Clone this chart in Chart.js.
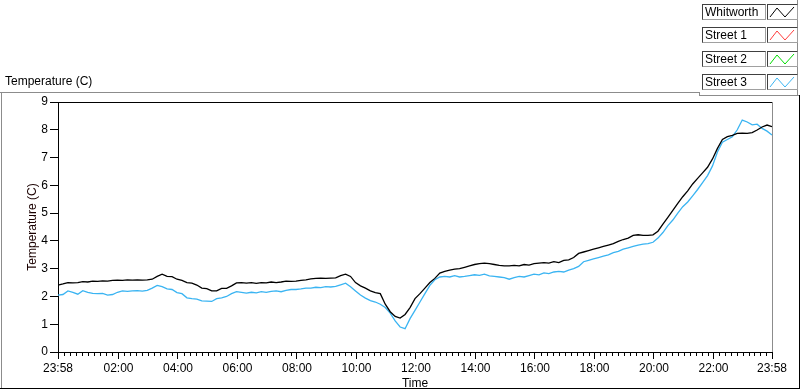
<!DOCTYPE html>
<html>
<head>
<meta charset="utf-8">
<script src="https://cdn.jsdelivr.net/npm/chart.js@4.4.0/dist/chart.umd.min.js"></script>
<style>
  body { margin: 0; background: #fff; font-family: "Liberation Sans", Arial, sans-serif; }
  #wrap { position: relative; width: 800px; height: 392px; overflow: hidden; background: #fff; }
  #myChart { position: absolute; left: 0; top: 0; }
  .ln { position: absolute; }
  .ttl { position: absolute; left: 5px; top: 74px; font-size: 12px; line-height: 14px; color: #000; }
  .lbl { position: absolute; left: 702px; width: 60px; height: 14px; font-size: 12px; line-height: 14px;
         border-top: 1px solid #404040; border-left: 1px solid #404040;
         border-bottom: 1px solid #a0a0a0; border-right: 1px solid #a0a0a0; padding-left: 2px; box-sizing: content-box; color: #000; }
  .ico { position: absolute; left: 767px; width: 29px; height: 14px;
         border-top: 1px solid #404040; border-left: 1px solid #404040;
         border-bottom: 1px solid #a0a0a0; border-right: 1px solid #a0a0a0; }
</style>
</head>
<body>
<div id="wrap">
  <canvas id="myChart" width="800" height="392"></canvas>
  <div class="ttl">Temperature (C)</div>
  <!-- panel frame -->
  <div class="ln" style="left:0;top:92px;width:700px;height:1px;background:#8c8c8c"></div>
  <div class="ln" style="left:1px;top:92px;width:1px;height:296px;background:#8c8c8c"></div>
  <div class="ln" style="left:0;top:388px;width:800px;height:1px;background:#000"></div>
  <div class="ln" style="left:799px;top:95px;width:1px;height:294px;background:#000"></div>
  <div class="ln" style="left:699px;top:92px;width:1px;height:4px;background:#8c8c8c"></div>
  <div class="ln" style="left:699px;top:95px;width:100px;height:1px;background:#8c8c8c"></div>
  <div class="ln" style="left:797px;top:0;width:1px;height:95px;background:#8c8c8c"></div>
  <div id="legend"></div>
</div>
<script>
// series names + colours
const seriesNames = ['Whitworth', 'Street 1', 'Street 2', 'Street 3'];
const seriesColors = ['#000000', '#ff3c3c', '#00dc00', '#3ab4f2'];

// x axis ticks (minutes after 23:58)
const xTickValues = [0, 122, 242, 362, 482, 602, 722, 842, 962, 1082, 1202, 1322, 1440];
const xTickLabels = ['23:58', '02:00', '04:00', '06:00', '08:00', '10:00', '12:00',
                     '14:00', '16:00', '18:00', '20:00', '22:00', '23:58'];

// sample times, every 10 minutes from 23:58
const sampleMinutes = Array.from({length: 145}, (_, i) => i * 10);

const whitworth = [
  2.41, 2.45, 2.50, 2.49, 2.50, 2.53, 2.52, 2.55, 2.54, 2.56, 2.55, 2.58, 2.59, 2.58, 2.60, 2.59,
  2.60, 2.59, 2.60, 2.62, 2.72, 2.80, 2.72, 2.71, 2.62, 2.58, 2.50, 2.48, 2.41, 2.30, 2.28, 2.20,
  2.20, 2.29, 2.29, 2.38, 2.49, 2.50, 2.48, 2.50, 2.47, 2.50, 2.49, 2.52, 2.50, 2.52, 2.55, 2.54,
  2.55, 2.58, 2.60, 2.63, 2.65, 2.66, 2.65, 2.66, 2.67, 2.75, 2.80, 2.72, 2.50, 2.38, 2.30, 2.20,
  2.14, 2.10, 1.72, 1.45, 1.28, 1.22, 1.35, 1.60, 1.92, 2.10, 2.30, 2.50, 2.65, 2.84, 2.90, 2.95,
  2.98, 3.00, 3.05, 3.10, 3.15, 3.18, 3.20, 3.18, 3.15, 3.12, 3.10, 3.10, 3.12, 3.10, 3.15, 3.13,
  3.18, 3.20, 3.22, 3.20, 3.25, 3.22, 3.30, 3.32, 3.40, 3.55, 3.60, 3.65, 3.70, 3.75, 3.80, 3.85,
  3.90, 3.98, 4.05, 4.10, 4.20, 4.22, 4.20, 4.20, 4.22, 4.35, 4.60, 4.85, 5.10, 5.35, 5.59, 5.80,
  6.05, 6.25, 6.45, 6.65, 6.95, 7.33, 7.65, 7.75, 7.80, 7.87, 7.88, 7.87, 7.90, 7.99, 8.10, 8.17,
  8.11
];
const street1 = [];
const street2 = [];
const street3 = [
  2.05, 2.07, 2.20, 2.15, 2.08, 2.21, 2.15, 2.11, 2.10, 2.11, 2.05, 2.07, 2.15, 2.20, 2.18, 2.20,
  2.21, 2.19, 2.22, 2.30, 2.40, 2.35, 2.27, 2.25, 2.14, 2.10, 1.95, 1.92, 1.90, 1.84, 1.83, 1.82,
  1.92, 1.95, 2.00, 2.10, 2.17, 2.15, 2.12, 2.15, 2.13, 2.17, 2.15, 2.18, 2.20, 2.17, 2.22, 2.25,
  2.25, 2.27, 2.30, 2.30, 2.33, 2.32, 2.35, 2.34, 2.36, 2.42, 2.48, 2.35, 2.20, 2.05, 1.94, 1.85,
  1.80, 1.72, 1.60, 1.40, 1.12, 0.90, 0.84, 1.20, 1.50, 1.80, 2.10, 2.40, 2.60, 2.70, 2.72, 2.70,
  2.75, 2.70, 2.72, 2.75, 2.78, 2.76, 2.80, 2.74, 2.72, 2.70, 2.68, 2.62, 2.68, 2.72, 2.70, 2.75,
  2.80, 2.78, 2.85, 2.82, 2.88, 2.90, 2.88, 2.95, 3.00, 3.08, 3.25, 3.30, 3.35, 3.40, 3.45, 3.50,
  3.58, 3.62, 3.70, 3.75, 3.80, 3.85, 3.88, 3.90, 3.95, 4.10, 4.30, 4.55, 4.75, 5.00, 5.23, 5.40,
  5.62, 5.85, 6.10, 6.35, 6.70, 7.20, 7.55, 7.65, 7.75, 8.00, 8.35, 8.28, 8.18, 8.20, 8.05, 7.95,
  7.81
];

const seriesValues = [whitworth, street1, street2, street3];

// legend, drawn as html boxes like the original
const legendEl = document.getElementById('legend');
seriesNames.forEach((name, i) => {
  const top = 4 + Math.round(i * 23.3);
  const lbl = document.createElement('div');
  lbl.className = 'lbl';
  lbl.style.top = top + 'px';
  lbl.textContent = name;
  legendEl.appendChild(lbl);
  const ico = document.createElement('div');
  ico.className = 'ico';
  ico.style.top = top + 'px';
  ico.innerHTML = '<svg width="29" height="14"><polyline points="2,12 9,3 17,12 26,2" fill="none" stroke="' +
    seriesColors[i] + '" stroke-width="1"/></svg>';
  legendEl.appendChild(ico);
});

const data = {
  datasets: seriesValues.map((vals, i) => ({
    label: seriesNames[i],
    data: vals.map((v, k) => ({x: sampleMinutes[k], y: v})),
    borderColor: seriesColors[i],
    backgroundColor: seriesColors[i],
    borderWidth: 1.3,
    pointRadius: 0,
    tension: 0
  }))
};

// small ticks between the labelled ones + top/right frame of the plot
const plotExtras = {
  id: 'plotExtras',
  afterDraw(chart) {
    const ctx = chart.ctx, a = chart.chartArea, xs = chart.scales.x;
    ctx.save();
    ctx.lineWidth = 1;
    ctx.strokeStyle = '#000';
    for (let i = 0; i < xTickValues.length - 1; i++) {
      const v0 = xTickValues[i], v1 = xTickValues[i + 1];
      for (let k = 1; k < 10; k++) {
        const px = Math.round(xs.getPixelForValue(v0 + (v1 - v0) * k / 10)) + 0.5;
        ctx.beginPath();
        ctx.moveTo(px, a.bottom);
        ctx.lineTo(px, a.bottom + 4);
        ctx.stroke();
      }
    }
    ctx.beginPath();
    ctx.moveTo(a.left, a.top + 0.5);
    ctx.lineTo(a.right, a.top + 0.5);
    ctx.stroke();
    ctx.strokeStyle = '#8c8c8c';
    ctx.beginPath();
    ctx.moveTo(a.right + 0.5, a.top);
    ctx.lineTo(a.right + 0.5, a.bottom);
    ctx.stroke();
    ctx.restore();
  }
};

const tickFont = {family: '"Liberation Sans", Arial, sans-serif', size: 12};

const config = {
  type: 'line',
  data,
  plugins: [plotExtras],
  options: {
    responsive: false,
    animation: false,
    devicePixelRatio: 1,
    layout: { padding: {left: 0, right: 28, top: 102, bottom: 0} },
    plugins: {
      legend: { display: false },
      tooltip: { enabled: false }
    },
    scales: {
      x: {
        type: 'linear',
        min: 0,
        max: 1440,
        afterBuildTicks: (scale) => { scale.ticks = xTickValues.map(v => ({value: v})); },
        afterFit: (scale) => { scale.height = 40; },
        ticks: {
          autoSkip: false,
          maxRotation: 0,
          padding: 2,
          color: '#000',
          font: tickFont,
          callback: (v, i) => xTickLabels[i]
        },
        grid: { drawOnChartArea: false, tickLength: 7, tickColor: '#000' },
        border: { color: '#000', width: 1 },
        title: { display: true, text: 'Time', color: '#000', font: tickFont, padding: {top: 0, bottom: 1} }
      },
      y: {
        min: 0,
        max: 9,
        afterFit: (scale) => { scale.width = 58; },
        ticks: { stepSize: 1, padding: 2, color: '#000', font: tickFont },
        grid: { drawOnChartArea: false, tickLength: 8, tickColor: '#000' },
        border: { color: '#000', width: 1 },
        title: { display: true, text: 'Temperature (C)', color: '#1a0000', font: tickFont, padding: {top: 25, bottom: 0} }
      }
    }
  }
};

const myChart = new Chart(document.getElementById('myChart'), config);
</script>
</body>
</html>
